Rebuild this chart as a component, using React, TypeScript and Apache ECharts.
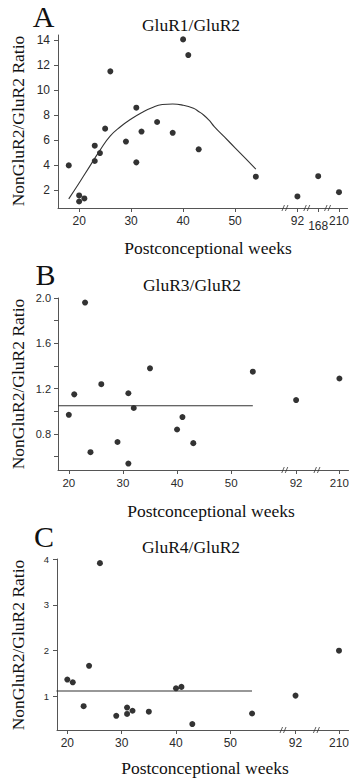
import React, { useEffect, useRef } from "react";
import * as echarts from "echarts";

// ---------- data ----------
// Panel A: GluR1/GluR2
const weeksA = [18, 20, 20, 21, 23, 23, 24, 25, 26, 29, 31, 31, 32, 35, 38, 40, 41, 43, 54, 92, 168, 210];
const ratioA = [4.0, 1.6, 1.12, 1.36, 5.57, 4.35, 4.98, 6.93, 11.5, 5.9, 8.6, 4.24, 6.7, 7.46, 6.6, 14.05, 12.8, 5.28, 3.1, 1.52, 3.14, 1.86];
const fitWeeksA = [18, 20, 22, 24, 26, 28, 30, 32, 34, 36, 38, 40, 42, 43, 44, 45, 46, 48, 50, 52, 54];
const fitRatioA = [1.33, 2.6, 3.9, 5.2, 6.35, 7.1, 7.7, 8.2, 8.6, 8.85, 8.9, 8.8, 8.55, 8.3, 8.0, 7.6, 7.1, 6.25, 5.4, 4.55, 3.7];

// Panel B: GluR3/GluR2
const weeksB = [23, 35, 54, 210, 26, 21, 31, 20, 32, 92, 41, 40, 29, 43, 24, 31];
const ratioB = [1.96, 1.38, 1.35, 1.29, 1.24, 1.15, 1.16, 0.97, 1.03, 1.1, 0.95, 0.84, 0.73, 0.72, 0.64, 0.54];
const meanWeeksB = [18, 54];
const meanRatioB = [1.05, 1.05];

// Panel C: GluR4/GluR2
const weeksC = [26, 210, 20, 21, 24, 23, 29, 31, 31, 32, 35, 40, 41, 43, 54, 92];
const ratioC = [3.91, 2.0, 1.37, 1.31, 1.67, 0.79, 0.58, 0.76, 0.62, 0.69, 0.67, 1.18, 1.21, 0.4, 0.63, 1.02];
const meanWeeksC = [18, 54];
const meanRatioC = [1.12, 1.12];

// ticks
const xTicksA = [20, 30, 40, 50, 92, 168, 210];
const xTicksBC = [20, 30, 40, 50, 92, 210];
const yTicksA = [2, 4, 6, 8, 10, 12, 14];
const yTicksB = [0.6, 0.8, 1.0, 1.2, 1.4, 1.6, 1.8, 2.0];
const yLabelsB = [0.8, 1.2, 1.6, 2.0];
const yTicksC = [1, 2, 3, 4];

// broken axis: late weeks are placed on compressed positions
const brokenPos: Record<number, number> = { 92: 62, 168: 66, 210: 70 };
const axisBreaksA = [59.6, 63.8, 67.8];
const axisBreaksB = [59.9, 65.85];
const axisBreaksC = [59.7, 65.85];

const titles = ["GluR1/GluR2", "GluR3/GluR2", "GluR4/GluR2"];
const letters = ["A", "B", "C"];
const yName = "NonGluR2/GluR2 Ratio";
const xName = "Postconceptional weeks";

// ---------- helpers ----------
const pos = (w: number) => (brokenPos[w] !== undefined ? brokenPos[w] : w);
const labelOf = (p: number) => {
  for (const k of Object.keys(brokenPos)) {
    if (Math.abs(brokenPos[+k] - p) < 1e-6) return k;
  }
  return String(Math.round(p));
};

const SERIF = '"Liberation Serif", "Times New Roman", serif';
const SANS = '"Liberation Sans", Arial, Helvetica, sans-serif';
const AXIS = "#555";
const TXT = "#2a2a2a";
const BREAK_PATH =
  "path://M0,10 L3.6,0 L5,0 L1.4,10 Z M5,10 L8.6,0 L10,0 L6.4,10 Z";

function xAxis(idx: number, min: number, max: number, ticks: number[], fs: number) {
  return {
    type: "value",
    gridIndex: idx,
    min,
    max,
    axisLine: { show: true, onZero: false, lineStyle: { color: AXIS, width: 1 } },
    axisTick: { show: true, length: 4, lineStyle: { color: AXIS }, customValues: ticks.map(pos) },
    axisLabel: {
      show: true,
      customValues: ticks.map(pos),
      fontFamily: SANS,
      fontSize: fs,
      color: TXT,
      margin: 7,
      formatter: (v: number) => {
        const s = labelOf(v);
        return s === "168" ? "{low|168}" : s;
      },
      rich: { low: { fontFamily: SANS, fontSize: fs, color: TXT, padding: [5, 0, 0, 0] } },
    },
    splitLine: { show: false },
  };
}

function yAxis(idx: number, min: number, max: number, ticks: number[], labels: number[], fs: number, margin: number, fmt: (v: number) => string) {
  return {
    type: "value",
    gridIndex: idx,
    min,
    max,
    axisLine: { show: true, onZero: false, lineStyle: { color: AXIS, width: 1 } },
    axisTick: { show: true, length: 4, lineStyle: { color: AXIS }, customValues: ticks },
    axisLabel: { show: true, customValues: labels, fontFamily: SANS, fontSize: fs, color: TXT, margin, formatter: fmt },
    splitLine: { show: false },
  };
}

function points(idx: number, weeks: number[], vals: number[]) {
  return {
    type: "scatter",
    xAxisIndex: idx,
    yAxisIndex: idx,
    symbolSize: 6,
    itemStyle: { color: "#000" },
    data: weeks.map((w, i) => [pos(w), vals[i]]),
    clip: false,
  };
}

function line(idx: number, weeks: number[], vals: number[], smooth: boolean) {
  return {
    type: "line",
    xAxisIndex: idx,
    yAxisIndex: idx,
    symbol: "none",
    smooth,
    lineStyle: { color: "#333", width: 1.1 },
    data: weeks.map((w, i) => [pos(w), vals[i]]),
  };
}

function breaks(idx: number, at: number[], yMin: number) {
  return {
    type: "scatter",
    xAxisIndex: idx,
    yAxisIndex: idx,
    symbol: BREAK_PATH,
    symbolSize: [7, 6],
    itemStyle: { color: "#333" },
    silent: true,
    clip: false,
    z: 5,
    data: at.map((p) => [p, yMin]),
  };
}

function txt(text: string, x: number, y: number, size: number, rotation = 0) {
  return {
    type: "text",
    x,
    y,
    rotation,
    style: {
      text,
      fontFamily: SERIF,
      fontSize: size,
      fill: "#111",
      align: "center",
      verticalAlign: "middle",
    },
  };
}

export default function App() {
  const ref = useRef<HTMLDivElement>(null);
  useEffect(() => {
    if (!ref.current) return;
    const chart = echarts.init(ref.current, null, { renderer: "svg" });
    const yMinA = 0.6, yMinB = 0.483, yMinC = 0.27;
    chart.setOption({
      animation: false,
      backgroundColor: "#fff",
      grid: [
        { left: 58, top: 35, width: 292, height: 173 },
        { left: 58, top: 298, width: 292, height: 172 },
        { left: 57, top: 559, width: 293, height: 171 },
      ],
      xAxis: [
        xAxis(0, 15.93, 71.65, xTicksA, 12),
        xAxis(1, 18.0, 71.68, xTicksBC, 11.5),
        xAxis(2, 18.1, 71.76, xTicksBC, 12),
      ],
      yAxis: [
        yAxis(0, yMinA, 14.4, yTicksA, yTicksA, 12, 8, (v) => String(v)),
        yAxis(1, yMinB, 2.0, yTicksB, yLabelsB, 11, 7, (v) => v.toFixed(1)),
        yAxis(2, yMinC, 4.0, yTicksC, yTicksC, 9.5, 8, (v) => String(v)),
      ],
      series: [
        line(0, fitWeeksA, fitRatioA, true),
        points(0, weeksA, ratioA),
        breaks(0, axisBreaksA, yMinA),
        line(1, meanWeeksB, meanRatioB, false),
        points(1, weeksB, ratioB),
        breaks(1, axisBreaksB, yMinB),
        line(2, meanWeeksC, meanRatioC, false),
        points(2, weeksC, ratioC),
        breaks(2, axisBreaksC, yMinC),
      ],
      graphic: [
        txt(letters[0], 43.5, 16.2, 30),
        txt(letters[1], 45.5, 274.8, 30),
        txt(letters[2], 44, 536.8, 30),
        txt(titles[0], 191, 25, 17.5),
        txt(titles[1], 192, 285, 17.5),
        txt(titles[2], 191, 546.5, 17.5),
        txt(yName, 18, 121, 17.5, Math.PI / 2),
        txt(yName, 18, 384, 17.5, Math.PI / 2),
        txt(yName, 18, 645, 17.5, Math.PI / 2),
        txt(xName, 208, 247.5, 17.5),
        txt(xName, 211, 511, 17.5),
        txt(xName, 205, 767.5, 17.5),
      ],
    });
    return () => chart.dispose();
  }, []);
  return (
    <div
      ref={ref}
      style={{ position: "absolute", left: 0, top: 0, width: 352, height: 779, background: "#fff" }}
    />
  );
}
